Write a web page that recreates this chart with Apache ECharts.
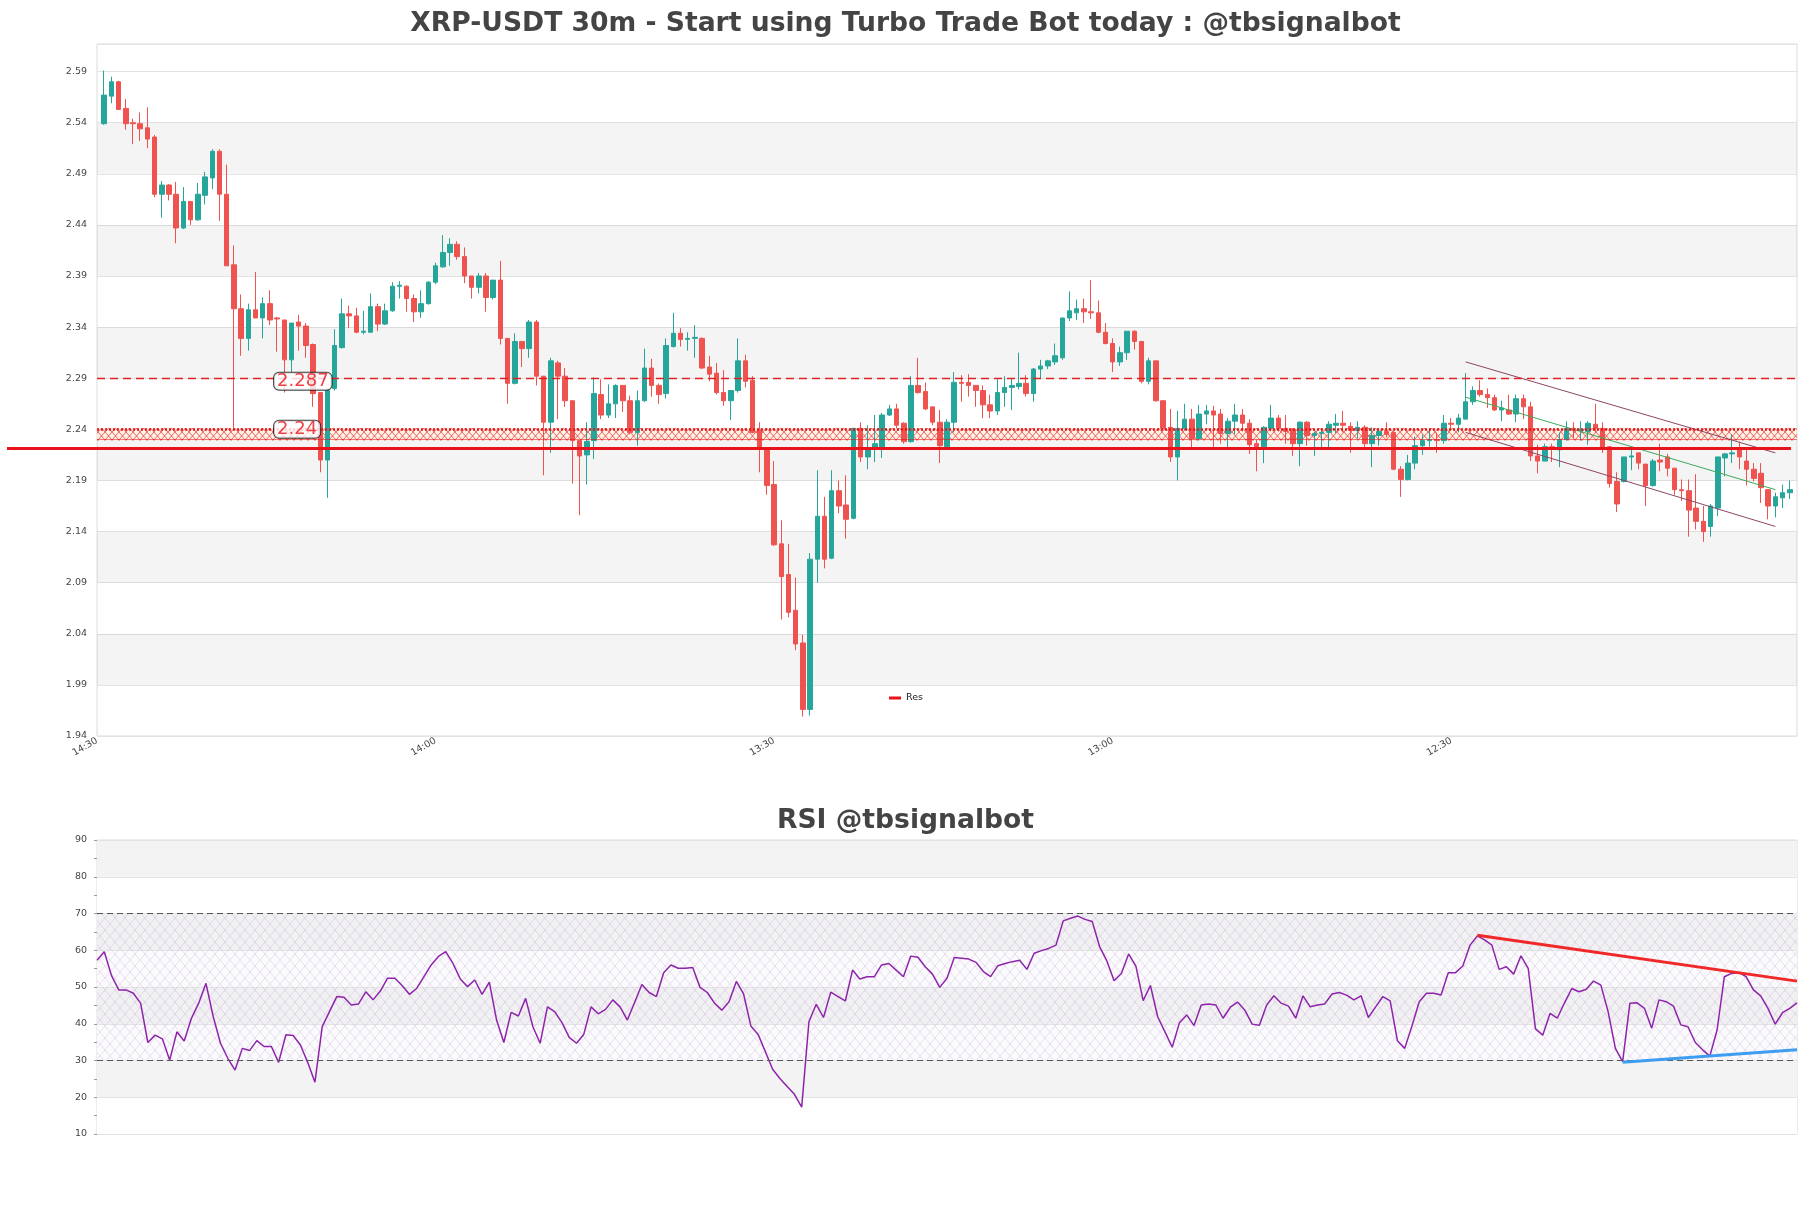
<!DOCTYPE html>
<html><head><meta charset="utf-8">
<script src="https://cdn.jsdelivr.net/npm/echarts@6/dist/echarts.min.js"></script>
<style>html,body{margin:0;padding:0;background:#fff}#c{width:1811px;height:1208px}</style>
</head><body><div id="c"></div>
<script>
const titleMain = 'XRP-USDT 30m - Start using Turbo Trade Bot today : @tbsignalbot';
const titleRsi = 'RSI @tbsignalbot';
const xTickLabels = ['14:30', '14:00', '13:30', '13:00', '12:30'];
const xTickStep = 47;

const openP = [
2.539,2.566,2.580,2.554,2.540,2.539,2.535,2.526,2.470,2.479,
2.470,2.437,2.463,2.445,2.469,2.486,2.512,2.470,2.401,2.358,
2.329,2.357,2.349,2.363,2.349,2.347,2.308,2.345,2.341,2.323,
2.276,2.210,2.280,2.320,2.353,2.351,2.335,2.335,2.360,2.343,
2.356,2.380,2.380,2.368,2.355,2.363,2.384,2.399,2.413,2.421,
2.409,2.390,2.379,2.390,2.369,2.386,2.329,2.285,2.326,2.319,
2.345,2.292,2.247,2.305,2.292,2.268,2.229,2.215,2.229,2.274,
2.254,2.265,2.283,2.268,2.237,2.268,2.300,2.283,2.275,2.321,
2.334,2.328,2.329,2.329,2.301,2.295,2.276,2.268,2.278,2.307,
2.288,2.239,2.221,2.186,2.128,2.098,2.063,2.031,1.966,2.113,
2.155,2.114,2.180,2.166,2.153,2.241,2.213,2.221,2.222,2.254,
2.260,2.246,2.228,2.283,2.277,2.262,2.247,2.223,2.247,2.286,
2.286,2.283,2.278,2.264,2.258,2.276,2.281,2.282,2.285,2.275,
2.299,2.302,2.306,2.310,2.349,2.354,2.358,2.355,2.354,2.335,
2.324,2.306,2.315,2.336,2.326,2.287,2.307,2.268,2.242,2.213,
2.241,2.250,2.231,2.255,2.258,2.255,2.236,2.248,2.254,2.246,
2.226,2.223,2.241,2.251,2.241,2.240,2.226,2.247,2.234,2.236,
2.237,2.244,2.246,2.243,2.239,2.242,2.226,2.234,2.238,2.237,
2.201,2.191,2.207,2.224,2.229,2.230,2.229,2.246,2.245,2.250,
2.267,2.278,2.274,2.271,2.259,2.259,2.255,2.270,2.262,2.214,
2.209,2.223,2.220,2.230,2.241,2.239,2.238,2.245,2.241,2.223,
2.189,2.189,2.213,2.217,2.206,2.185,2.210,2.213,2.202,2.181,
2.180,2.163,2.150,2.145,2.163,2.212,2.216,2.221,2.209,2.201,
2.197,2.181,2.165,2.173,2.178];
const closeP = [
2.567,2.580,2.553,2.539,2.539,2.534,2.524,2.470,2.479,2.470,
2.437,2.463,2.445,2.470,2.487,2.512,2.470,2.400,2.358,2.329,
2.357,2.349,2.363,2.347,2.348,2.308,2.344,2.341,2.322,2.275,
2.210,2.278,2.322,2.353,2.351,2.335,2.336,2.360,2.343,2.356,
2.380,2.381,2.368,2.355,2.363,2.384,2.400,2.413,2.421,2.409,
2.390,2.379,2.390,2.369,2.386,2.329,2.285,2.326,2.319,2.345,
2.292,2.247,2.307,2.292,2.268,2.229,2.214,2.228,2.275,2.254,
2.265,2.283,2.268,2.237,2.268,2.300,2.283,2.274,2.322,2.334,
2.328,2.329,2.330,2.300,2.294,2.276,2.268,2.278,2.307,2.287,
2.237,2.221,2.185,2.127,2.096,2.061,2.030,1.966,2.113,2.155,
2.113,2.180,2.165,2.152,2.241,2.213,2.221,2.226,2.254,2.260,
2.244,2.228,2.283,2.276,2.260,2.247,2.224,2.247,2.286,2.285,
2.283,2.278,2.264,2.258,2.276,2.281,2.283,2.285,2.275,2.299,
2.302,2.307,2.312,2.349,2.356,2.358,2.355,2.354,2.335,2.324,
2.306,2.315,2.336,2.326,2.287,2.307,2.268,2.241,2.213,2.241,
2.250,2.231,2.255,2.258,2.254,2.236,2.248,2.254,2.246,2.225,
2.223,2.242,2.251,2.241,2.238,2.226,2.247,2.234,2.236,2.237,
2.245,2.246,2.244,2.239,2.242,2.226,2.234,2.238,2.235,2.201,
2.191,2.207,2.224,2.229,2.230,2.229,2.246,2.245,2.251,2.267,
2.278,2.274,2.271,2.259,2.261,2.255,2.270,2.262,2.214,2.209,
2.223,2.222,2.230,2.241,2.239,2.240,2.246,2.241,2.222,2.187,
2.167,2.213,2.214,2.207,2.185,2.209,2.208,2.202,2.181,2.180,
2.161,2.150,2.140,2.165,2.213,2.216,2.217,2.213,2.201,2.192,
2.183,2.165,2.174,2.178,2.181];
const lowP = [
2.538,2.559,2.553,2.533,2.519,2.522,2.515,2.467,2.447,2.464,
2.422,2.436,2.440,2.444,2.460,2.475,2.444,2.400,2.241,2.312,
2.317,2.349,2.329,2.342,2.316,2.276,2.296,2.317,2.310,2.262,
2.198,2.173,2.278,2.319,2.339,2.334,2.333,2.335,2.336,2.342,
2.355,2.368,2.355,2.345,2.349,2.362,2.382,2.398,2.400,2.406,
2.383,2.368,2.373,2.355,2.367,2.323,2.265,2.284,2.301,2.310,
2.283,2.195,2.217,2.250,2.262,2.187,2.156,2.186,2.211,2.250,
2.251,2.251,2.257,2.235,2.224,2.267,2.272,2.265,2.270,2.320,
2.321,2.317,2.310,2.299,2.287,2.274,2.263,2.249,2.276,2.281,
2.236,2.198,2.176,2.126,2.054,2.056,2.024,1.959,1.960,2.090,
2.104,2.113,2.158,2.133,2.152,2.208,2.201,2.208,2.212,2.253,
2.241,2.226,2.227,2.275,2.259,2.244,2.207,2.221,2.237,2.267,
2.272,2.262,2.251,2.251,2.254,2.262,2.259,2.279,2.272,2.267,
2.290,2.299,2.303,2.308,2.346,2.347,2.344,2.348,2.334,2.323,
2.296,2.302,2.308,2.318,2.285,2.284,2.267,2.241,2.208,2.190,
2.239,2.220,2.229,2.245,2.222,2.226,2.221,2.235,2.238,2.216,
2.199,2.207,2.238,2.238,2.226,2.214,2.204,2.224,2.214,2.222,
2.222,2.236,2.237,2.217,2.231,2.222,2.203,2.224,2.232,2.200,
2.174,2.190,2.201,2.215,2.223,2.217,2.226,2.239,2.237,2.250,
2.264,2.272,2.261,2.258,2.248,2.254,2.247,2.250,2.209,2.197,
2.209,2.208,2.203,2.229,2.231,2.229,2.225,2.237,2.217,2.183,
2.159,2.188,2.200,2.201,2.165,2.184,2.199,2.194,2.176,2.170,
2.135,2.142,2.130,2.135,2.155,2.194,2.207,2.201,2.185,2.189,
2.168,2.152,2.154,2.163,2.172];
const highP = [
2.591,2.585,2.581,2.563,2.544,2.550,2.555,2.528,2.483,2.480,
2.482,2.477,2.463,2.481,2.492,2.514,2.514,2.499,2.420,2.372,
2.363,2.394,2.369,2.376,2.350,2.347,2.344,2.352,2.344,2.324,
2.276,2.278,2.338,2.368,2.361,2.359,2.356,2.373,2.363,2.363,
2.384,2.385,2.381,2.372,2.376,2.385,2.403,2.430,2.427,2.424,
2.418,2.390,2.393,2.393,2.386,2.405,2.329,2.334,2.326,2.347,
2.347,2.292,2.310,2.307,2.300,2.268,2.229,2.247,2.291,2.289,
2.284,2.284,2.283,2.273,2.278,2.319,2.309,2.285,2.329,2.354,
2.339,2.335,2.342,2.330,2.312,2.305,2.298,2.278,2.329,2.313,
2.292,2.247,2.221,2.209,2.151,2.128,2.095,2.039,2.119,2.200,
2.174,2.200,2.190,2.195,2.241,2.247,2.244,2.254,2.256,2.264,
2.265,2.247,2.292,2.310,2.286,2.262,2.259,2.250,2.296,2.293,
2.294,2.283,2.283,2.274,2.289,2.292,2.290,2.315,2.293,2.300,
2.308,2.308,2.324,2.349,2.375,2.367,2.368,2.386,2.366,2.344,
2.329,2.321,2.336,2.337,2.326,2.310,2.307,2.268,2.260,2.258,
2.265,2.260,2.264,2.264,2.263,2.260,2.251,2.265,2.260,2.250,
2.230,2.243,2.264,2.254,2.254,2.241,2.248,2.248,2.238,2.241,
2.248,2.255,2.258,2.247,2.248,2.244,2.242,2.241,2.247,2.237,
2.204,2.215,2.233,2.235,2.241,2.237,2.254,2.251,2.255,2.295,
2.282,2.288,2.280,2.274,2.268,2.274,2.274,2.274,2.267,2.225,
2.226,2.226,2.237,2.248,2.247,2.248,2.248,2.265,2.247,2.223,
2.198,2.213,2.222,2.217,2.206,2.211,2.226,2.216,2.202,2.191,
2.191,2.196,2.165,2.167,2.213,2.217,2.235,2.228,2.221,2.207,
2.207,2.181,2.178,2.186,2.190];

const rsi = [
57.3,59.6,53.1,49.2,49.2,48.3,45.6,34.9,36.9,35.9,
30.1,37.8,35.3,41.5,45.6,51.0,41.9,34.7,30.6,27.4,
33.3,32.7,35.4,33.8,33.8,29.5,37.0,36.8,34.2,29.5,
24.1,39.2,43.3,47.4,47.2,45.1,45.4,48.7,46.5,48.9,
52.4,52.4,50.4,48.0,49.6,52.8,56.0,58.3,59.6,56.4,
52.2,50.1,51.9,48.0,51.3,41.0,34.9,43.1,42.1,46.9,
39.2,34.7,44.6,43.3,40.3,36.3,34.7,37.1,44.6,42.7,
43.9,46.5,44.6,41.0,45.8,50.7,48.5,47.4,53.9,56.0,
55.1,55.1,55.3,49.9,48.5,45.6,43.7,46.0,51.5,48.1,
39.4,37.1,32.4,27.6,25.1,22.9,20.8,17.3,40.6,45.3,
41.7,48.6,47.4,46.2,54.6,52.2,52.8,52.8,56.0,56.4,
54.6,52.8,58.4,58.1,55.5,53.5,49.9,52.4,58.0,57.8,
57.6,56.7,54.2,52.8,55.8,56.4,56.9,57.3,54.8,59.2,
59.9,60.5,61.4,68.0,68.7,69.3,68.4,67.8,61.0,57.1,
51.7,53.7,59.0,55.7,46.3,50.4,41.9,37.8,33.6,40.3,
42.4,39.5,45.1,45.4,45.1,41.5,44.5,45.9,43.7,39.9,
39.6,45.1,47.6,45.6,44.8,41.5,47.6,44.6,45.1,45.4,
48.1,48.5,47.8,46.5,47.6,41.7,44.6,47.4,46.2,35.4,
33.3,39.4,46.0,48.3,48.3,47.8,53.9,53.9,55.7,61.4,
63.9,62.8,61.4,54.8,55.5,53.5,58.5,55.1,38.6,36.9,
42.8,41.5,45.7,49.6,48.7,49.4,51.6,50.5,43.3,33.3,
29.7,45.6,45.7,44.2,38.8,46.5,46.0,44.8,39.7,39.2,
34.9,32.9,31.2,38.3,52.8,53.7,53.9,52.8,49.2,47.6,
44.2,39.9,43.0,44.2,45.7];

const priceMin = 1.94, priceMax = 2.617, priceStep = 0.05;
const resLevel = 2.2213;
const dashLevel = 2.2853;
const zoneTop = 2.2414, zoneBottom = 2.2291;
const levelLabels = ['2.287', '2.24'];
const levelLabelValues = [2.287, 2.24];
const levelLabelCandle = 24;
const channelCandles = [189, 232];
const channelUpper = [2.306, 2.217];
const channelLower = [2.237, 2.145];
const channelMid = [2.2715, 2.181];
const rsiResX = [190, 234], rsiResY = [64.1, 51.6];
const rsiSupX = [210, 234], rsiSupY = [29.5, 32.9];
const rsiMin = 10, rsiMax = 90, rsiStep = 10;
const rsiLevels = [30, 70];
const rsiZone = [30, 70];

// ---- build ----
const n = openP.length;
const cats = [];
for (let k = 0; k < n + 2; k++) {
  const t = k % xTickStep === 0 ? xTickLabels[k / xTickStep] : '';
  cats.push(t || '');
}
const candleData = openP.map((o, i) => [i + 1, o, closeP[i], lowP[i], highP[i]]);
const rsiCats = rsi.map((_, i) => String(i));

const bands = [];
for (let k = 1; priceMin + (k + 1) * priceStep <= priceMax + 1e-9; k += 2) {
  const a = +(priceMin + k * priceStep).toFixed(4);
  const b = +(priceMin + (k + 1) * priceStep).toFixed(4);
  bands.push([{ yAxis: a }, { yAxis: b }]);
}

function makeHatch(w, h, stroke, lw, bg) {
  const c = document.createElement('canvas');
  c.width = w; c.height = h;
  const g = c.getContext('2d');
  if (bg) { g.fillStyle = bg; g.fillRect(0, 0, w, h); }
  g.strokeStyle = stroke; g.lineWidth = lw;
  g.beginPath();
  g.moveTo(0, 0); g.lineTo(w, h);
  g.moveTo(w, 0); g.lineTo(0, h);
  g.stroke();
  return c;
}
const zoneHatch = makeHatch(7, 8, 'rgba(232,20,28,0.8)', 0.8, 'rgba(255,240,220,0.7)');
const rsiHatch = makeHatch(10, 12, 'rgba(175,150,195,0.4)', 0.7, 'rgba(235,225,242,0.18)');

const FONT = 'DejaVu Sans';
const chart = echarts.init(document.getElementById('c'), null, { renderer: 'canvas' });
const noLine = { show: false };

const option = {
  animation: false,
  backgroundColor: '#fff',
  title: [
    { text: titleMain, left: 'center', top: 6, textStyle: { fontFamily: FONT, fontWeight: 'bold', fontSize: 26.6, color: '#444' } },
    { text: titleRsi, left: 'center', top: 803, textStyle: { fontFamily: FONT, fontWeight: 'bold', fontSize: 26.6, color: '#444' } }
  ],
  legend: {
    data: ['Res'], left: 884, top: 688, icon: 'rect', itemWidth: 12, itemHeight: 3,
    selectedMode: false, textStyle: { fontFamily: FONT, fontSize: 9.5, color: '#222' }
  },
  grid: [
    { left: 97, top: 44, width: 1700, height: 692, show: true, borderColor: '#dcdcdc', borderWidth: 1 },
    { left: 97, top: 840, width: 1700, height: 294, show: true, borderColor: '#dcdcdc', borderWidth: 1 },
    { left: 7, top: 44, width: 1784, height: 692 }
  ],
  xAxis: [
    { type: 'category', gridIndex: 0, data: cats, boundaryGap: false,
      axisLine: noLine, axisTick: noLine, splitLine: noLine,
      axisLabel: { interval: xTickStep - 1, rotate: 30, fontFamily: FONT, fontSize: 9.5, color: '#444', margin: 4 } },
    { type: 'category', gridIndex: 1, data: rsiCats, boundaryGap: false,
      axisLine: noLine, axisTick: noLine, splitLine: noLine, axisLabel: noLine },
    { type: 'value', gridIndex: 2, min: 0, max: 1, show: false }
  ],
  yAxis: [
    { type: 'value', gridIndex: 0, min: priceMin, max: priceMax, interval: priceStep,
      axisLine: noLine, axisTick: noLine,
      splitLine: { lineStyle: { color: '#e3e3e3', width: 1 } },
      axisLabel: { fontFamily: FONT, fontSize: 9.5, color: '#444', margin: 10,
        formatter: v => { const k = (v - priceMin) / priceStep; return (Math.abs(k - Math.round(k)) < 1e-6 && v < priceMax - 0.005) ? v.toFixed(2) : ''; } } },
    { type: 'value', gridIndex: 1, min: rsiMin, max: rsiMax, interval: rsiStep,
      axisLine: noLine,
      axisTick: { show: true, length: 3, lineStyle: { color: '#999' } },
      minorTick: { show: true, splitNumber: 2, length: 3, lineStyle: { color: '#999' } },
      splitLine: { lineStyle: { color: '#e3e3e3' } },
      splitArea: { show: true, areaStyle: { color: ['#ffffff', '#f3f3f3'] } },
      axisLabel: { fontFamily: FONT, fontSize: 9.5, color: '#444', margin: 10 } },
    { type: 'value', gridIndex: 2, min: priceMin, max: priceMax, show: false }
  ],
  series: [
    { name: 'bands', type: 'line', xAxisIndex: 0, yAxisIndex: 0, data: [], silent: true,
      markArea: { silent: true, itemStyle: { color: 'rgba(0,0,0,0.045)' }, data: bands } },
    { name: 'price', type: 'candlestick', xAxisIndex: 0, yAxisIndex: 0, z: 3,
      data: candleData, encode: { x: 0, y: [1, 2, 3, 4] }, barWidth: 5,
      itemStyle: { color: '#26a69a', color0: '#ef5350', borderColor: '#26a69a', borderColor0: '#ef5350', borderWidth: 1 },
      markArea: { silent: true, itemStyle: { color: { image: zoneHatch, repeat: 'repeat' } },
        data: [[{ yAxis: zoneBottom }, { yAxis: zoneTop }]] },
      markLine: { silent: true, symbol: ['none', 'none'], label: { show: false },
        data: [
          { yAxis: dashLevel, lineStyle: { color: '#dd2222', type: [8, 5], width: 1.3 } },
          { yAxis: zoneTop, lineStyle: { color: '#e8141c', type: [2, 2], width: 2.5 } },
          { yAxis: zoneBottom, lineStyle: { color: 'rgba(232,20,28,0.7)', type: 'solid', width: 0.8 } }
        ] } },
    { name: 'chUp', type: 'line', xAxisIndex: 0, yAxisIndex: 0, symbol: 'none', silent: true, z: 4,
      data: channelCandles.map((c, k) => [c + 1, channelUpper[k]]), lineStyle: { color: '#8e4466', width: 1 } },
    { name: 'chLow', type: 'line', xAxisIndex: 0, yAxisIndex: 0, symbol: 'none', silent: true, z: 4,
      data: channelCandles.map((c, k) => [c + 1, channelLower[k]]), lineStyle: { color: '#8e4466', width: 1 } },
    { name: 'chMid', type: 'line', xAxisIndex: 0, yAxisIndex: 0, symbol: 'none', silent: true, z: 4,
      data: channelCandles.map((c, k) => [c + 1, channelMid[k]]), lineStyle: { color: '#3daa5a', width: 1 } },
    { name: 'Res', type: 'line', xAxisIndex: 2, yAxisIndex: 2, symbol: 'none', silent: true, z: 5,
      data: [[0, resLevel], [1, resLevel]], lineStyle: { color: '#e8141c', width: 3 }, itemStyle: { color: '#e8141c' } },
    { name: 'levelLabels', type: 'scatter', xAxisIndex: 0, yAxisIndex: 0, symbolSize: 0, silent: true, z: 10,
      data: levelLabelValues.map(v => [levelLabelCandle + 1, v]),
      label: { show: true, position: 'right', distance: -3, formatter: p => levelLabels[p.dataIndex],
        fontFamily: FONT, fontSize: 18, color: '#e8141c', backgroundColor: '#fff', borderColor: '#111', borderWidth: 1,
        borderRadius: 5, padding: [1, 3, 0, 3], lineHeight: 16 } },
    { name: 'RSI', type: 'line', xAxisIndex: 1, yAxisIndex: 1, data: rsi, symbol: 'none', silent: true, z: 4,
      lineStyle: { color: '#8e24aa', width: 1.5 },
      markArea: { silent: true, itemStyle: { color: { image: rsiHatch, repeat: 'repeat' } },
        data: [[{ yAxis: rsiZone[0] }, { yAxis: rsiZone[1] }]] },
      markLine: { silent: true, symbol: ['none', 'none'], label: { show: false },
        lineStyle: { color: '#555', type: [6, 4], width: 1.2 },
        data: rsiLevels.map(v => ({ yAxis: v })) } },
    { name: 'rsiRes', type: 'line', xAxisIndex: 1, yAxisIndex: 1, symbol: 'none', silent: true, z: 5,
      data: rsiResX.map((x, k) => [x, rsiResY[k]]), lineStyle: { color: '#f02828', width: 3 } },
    { name: 'rsiSup', type: 'line', xAxisIndex: 1, yAxisIndex: 1, symbol: 'none', silent: true, z: 5,
      data: rsiSupX.map((x, k) => [x, rsiSupY[k]]), lineStyle: { color: '#3d9df0', width: 3 } }
  ]
};
chart.setOption(option);
</script></body></html>
